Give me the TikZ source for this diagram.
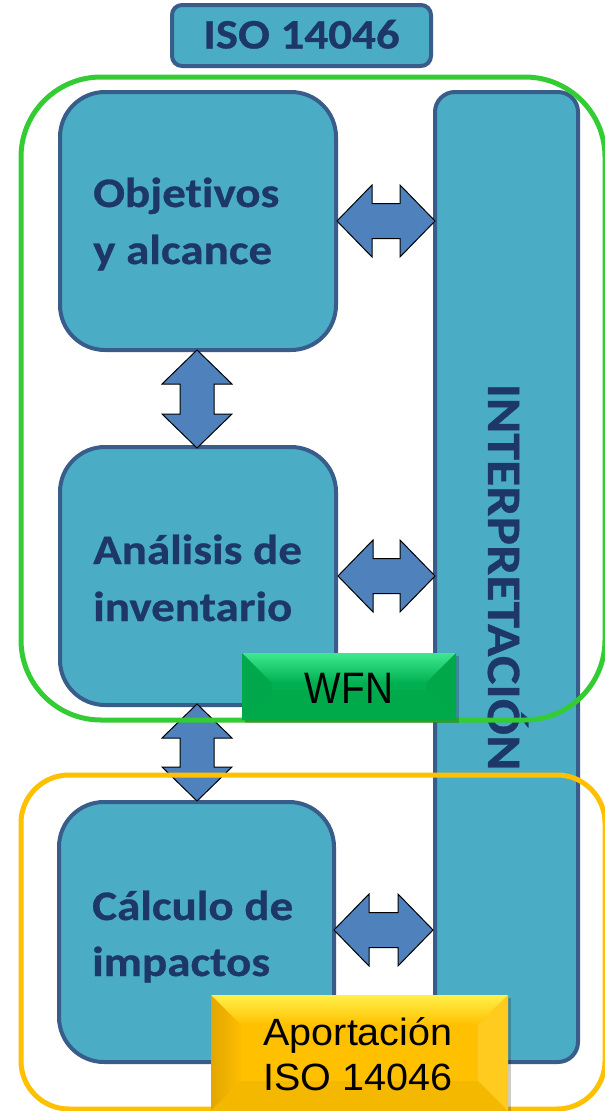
\documentclass[tikz,border=0pt]{standalone}
\usepackage{fontspec}
\newfontfamily\calb{Carlito}[FakeStretch=1.12, FakeBold=0.6, RawFeature={-liga}]
\newfontfamily\arialn{Liberation Sans}[FakeStretch=0.88]
\newfontfamily\ariala{Liberation Sans}[FakeStretch=1.04]
\definecolor{boxfill}{HTML}{4BACC6}
\definecolor{boxline}{HTML}{385D8A}
\definecolor{navy}{HTML}{1C3768}
\definecolor{arrowfill}{HTML}{4F81BD}
\definecolor{grline}{HTML}{33CC33}
\definecolor{yeline}{HTML}{FFC000}
\definecolor{wfnmain}{HTML}{00B050}
\definecolor{wfntop}{HTML}{3EE890}
\definecolor{wfnleft}{HTML}{00A84C}
\definecolor{wfnright}{HTML}{00A84A}
\definecolor{wfnbot}{HTML}{00AA4A}
\definecolor{apomain}{HTML}{FFC000}
\definecolor{apotop}{HTML}{FFF04A}
\definecolor{apoleft}{HTML}{E3A600}
\definecolor{aporight}{HTML}{FFCB1E}
\definecolor{apobot}{HTML}{F5B800}
\tikzset{
  box/.style={draw=boxline, line width=4pt, fill=boxfill, rounded corners=45pt, inner sep=0pt},
  bt/.style={text=navy, font=\calb\bfseries\fontsize{42}{50}\selectfont, inner sep=0pt, anchor=base west},
  arr/.style={draw=black, line width=1pt, fill=arrowfill, line join=miter},
  outline/.style={line width=5pt, fill=none},
}
\newcommand\hdarrow[3]{%
  \draw[arr] (#1,#3) -- ({#1+35},{#3-36}) -- ({#1+35},{#3-17.5}) -- ({#2-35},{#3-17.5}) -- ({#2-35},{#3-36}) -- (#2,#3) -- ({#2-35},{#3+36}) -- ({#2-35},{#3+17.5}) -- ({#1+35},{#3+17.5}) -- ({#1+35},{#3+36}) -- cycle;}
\newcommand\vdarrow[3]{%
  \draw[arr] (#3,#1) -- ({#3+35},{#1+34}) -- ({#3+17},{#1+34}) -- ({#3+17},{#2-34}) -- ({#3+35},{#2-34}) -- (#3,#2) -- ({#3-35},{#2-34}) -- ({#3-17},{#2-34}) -- ({#3-17},{#1+34}) -- ({#3-35},{#1+34}) -- cycle;}
\begin{document}
\begin{tikzpicture}[x=1pt,y=-1pt]
\useasboundingbox (0,0) rectangle (605,1111);
\fill[white] (0,0) rectangle (605,1111);

% main boxes
\node[box, minimum width=276pt, minimum height=258pt] (obj) at (198,221) {};
\node[box, minimum width=276pt, minimum height=258pt] (ana) at (198,576) {};
\node[box, minimum width=275pt, minimum height=260pt] (cal) at (196.5,932) {};
\node[box, rounded corners=20pt, minimum width=143pt, minimum height=970pt] (interp) at (506.5,577) {};
\node[box, rounded corners=10pt, minimum width=259pt, minimum height=61pt] (iso) at (301.5,35.5) {};

% texts
\node[text=navy, font=\calb\bfseries\fontsize{42}{50}\selectfont, inner sep=0pt, anchor=base] (isot) at (301.5,48.5) {ISO 14046};
\node[bt] (obj1) at (93,207) {Objetivos};
\node[bt] (obj2) at (93,264) {y alcance};
\node[bt] (ana1) at (93,564) {Análisis de};
\node[bt] (ana2) at (93,621) {inventario};
\node[bt] (cal1) at (92,920) {Cálculo de};
\node[bt] (cal2) at (92,976) {impactos};
\node[text=navy, font=\calb\bfseries\fontsize{48}{50}\selectfont, inner sep=0pt, anchor=base, rotate=-90] (interpt) at (488,577) {INTERPRETACIÓN};

% double arrows
\hdarrow{337}{435}{221}
\hdarrow{338}{435}{576}
\hdarrow{334}{433}{930}
\vdarrow{350}{448}{197}
\vdarrow{704}{801}{197}

% group outlines
\draw[outline, draw=grline, rounded corners=80pt] (21,77) rectangle (605,720);
\draw[outline, draw=yeline, rounded corners=48pt] (21,775) rectangle (605,1109);

% WFN label
\fill[black, opacity=0.2] (245,656) rectangle (459,723);
\fill[wfnmain] (242,653) rectangle (456,720);
\shade[top color=wfntop, bottom color=wfnmain] (242,653) -- (456,653) -- (426,683) -- (272,683) -- cycle;
\fill[wfnleft] (242,653) -- (272,683) -- (272,690) -- (242,720) -- cycle;
\fill[wfnright] (456,653) -- (426,683) -- (426,690) -- (456,720) -- cycle;
\fill[wfnbot] (242,720) -- (272,690) -- (426,690) -- (456,720) -- cycle;
\fill[wfnmain] (272,683) rectangle (426,690);
\node[font=\arialn\fontsize{44}{50}\selectfont, text=black, inner sep=0pt, anchor=base] (wfn) at (349,703) {WFN};

% Aportacion label
\fill[black, opacity=0.2] (214,998) rectangle (511,1114);
\fill[apomain] (211,995) rectangle (508,1111);
\shade[top color=apotop, bottom color=apomain] (211,995) -- (508,995) -- (478,1025) -- (241,1025) -- cycle;
\shade[left color=apoleft, right color=apomain!90!apoleft] (211,995) -- (241,1025) -- (241,1081) -- (211,1111) -- cycle;
\fill[aporight] (508,995) -- (478,1025) -- (478,1081) -- (508,1111) -- cycle;
\fill[apobot] (211,1111) -- (241,1081) -- (478,1081) -- (508,1111) -- cycle;
\fill[apomain] (241,1025) rectangle (478,1081);
\node[font=\ariala\fontsize{38}{45}\selectfont, text=black, inner sep=0pt, anchor=base] (apo1) at (358,1045) {Aportación};
\node[font=\ariala\fontsize{38}{45}\selectfont, text=black, inner sep=0pt, anchor=base] (apo2) at (358,1090) {ISO 14046};
\end{tikzpicture}
\end{document}
